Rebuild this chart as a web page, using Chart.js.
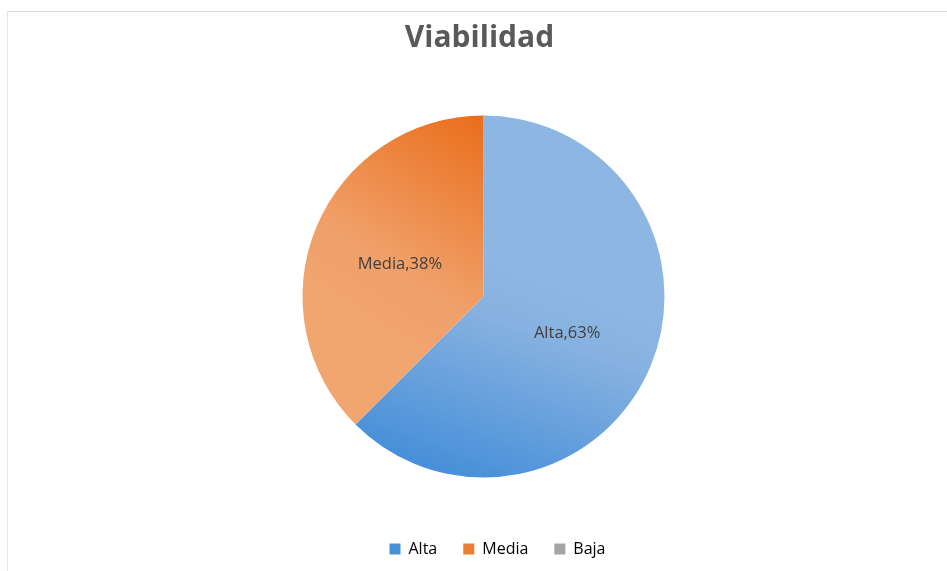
<!DOCTYPE html>
<html>
<head>
<meta charset="utf-8">
<script src="https://cdn.jsdelivr.net/npm/chart.js@4"></script>
<style>
  html, body { margin: 0; padding: 0; background: #fff; overflow: hidden; }
  #frame { position: absolute; left: 7px; top: 11px; width: 960px; height: 580px;
           border-top: 1px solid #dcdcdc; border-left: 1px solid #e4e4e4; }
  #wrap { position: absolute; left: 8px; top: 12px; width: 939px; height: 559px; }
</style>
</head>
<body>
<div id="frame"></div>
<div id="wrap"><canvas id="chart"></canvas></div>
<script>
// chart data
const labels = ['Alta', 'Media', 'Baja'];
const values = [5, 3, 0];
const legendColors = ['#4a90d9', '#ed7d31', '#a5a5a5'];
const titleText = 'Viabilidad';

const FONT = "'Open Sans', 'DejaVu Sans', sans-serif";

// gradient fill for each slice, built from the chart's own center/radius
function sliceFill(context) {
    const chart = context.chart;
    const area = chart.chartArea;
    const i = context.dataIndex;
    if (!area) return legendColors[i];
    const cx = (area.left + area.right) / 2;
    const cy = (area.top + area.bottom) / 2;
    const r = 181;
    const ctx = chart.ctx;
    let g;
    if (i === 0) {
        g = ctx.createLinearGradient(cx + r * 0.3, cy - r * 0.1, cx - r * 0.1, cy + r);
        g.addColorStop(0, '#8db6e2');
        g.addColorStop(0.25, '#86b1e0');
        g.addColorStop(1, '#4890d9');
    } else if (i === 1) {
        g = ctx.createLinearGradient(cx - r * 0.05, cy - r, cx - r * 0.75, cy + r * 0.1);
        g.addColorStop(0, '#ea6f1d');
        g.addColorStop(0.7, '#f09f68');
        g.addColorStop(1, '#f1a56f');
    } else {
        g = legendColors[i];
    }
    return g;
}

// "Alta,63%" style labels inside the slices
const sliceLabels = {
    id: 'sliceLabels',
    afterDatasetsDraw(chart) {
        const ctx = chart.ctx;
        const meta = chart.getDatasetMeta(0);
        const data = chart.data.datasets[0].data;
        const total = data.reduce((a, b) => a + b, 0);
        ctx.save();
        ctx.font = '16.5px ' + FONT;
        ctx.fillStyle = '#404040';
        ctx.textAlign = 'center';
        ctx.textBaseline = 'middle';
        meta.data.forEach((arc, i) => {
            if (!data[i]) return;
            const pos = arc.tooltipPosition();
            const pct = Math.round(data[i] / total * 100);
            ctx.fillText(chart.data.labels[i] + ',' + pct + '%', pos.x, pos.y + 2);
        });
        ctx.restore();
    }
};

// nudge title and legend horizontally like the original
const nudge = {
    id: 'nudge',
    afterLayout(chart) {
        chart.legend.left += 14; chart.legend.right += 14;
        chart.titleBlock.left -= 4; chart.titleBlock.right -= 4;
    }
};

new Chart(document.getElementById('chart'), {
    type: 'pie',
    data: {
        labels: labels,
        datasets: [{
            data: values,
            backgroundColor: sliceFill,
            borderWidth: 0,
            radius: 181
        }]
    },
    plugins: [sliceLabels, nudge],
    options: {
        responsive: true,
        maintainAspectRatio: false,
        animation: false,
        layout: { padding: { left: 12, bottom: 4 } },
        plugins: {
            title: {
                display: true,
                text: titleText,
                color: '#595959',
                font: { family: FONT, size: 30, weight: 'bold' },
                padding: { top: 8, bottom: 22 }
            },
            legend: {
                position: 'bottom',
                labels: {
                    color: '#595959',
                    font: { family: FONT, size: 16 },
                    boxWidth: 11,
                    boxHeight: 11,
                    padding: 26,
                    generateLabels(chart) {
                        return chart.data.labels.map((l, i) => ({
                            text: l,
                            fillStyle: legendColors[i],
                            strokeStyle: legendColors[i],
                            lineWidth: 0,
                            hidden: false,
                            index: i
                        }));
                    }
                }
            },
            tooltip: { enabled: false }
        }
    }
});
</script>
</body>
</html>
